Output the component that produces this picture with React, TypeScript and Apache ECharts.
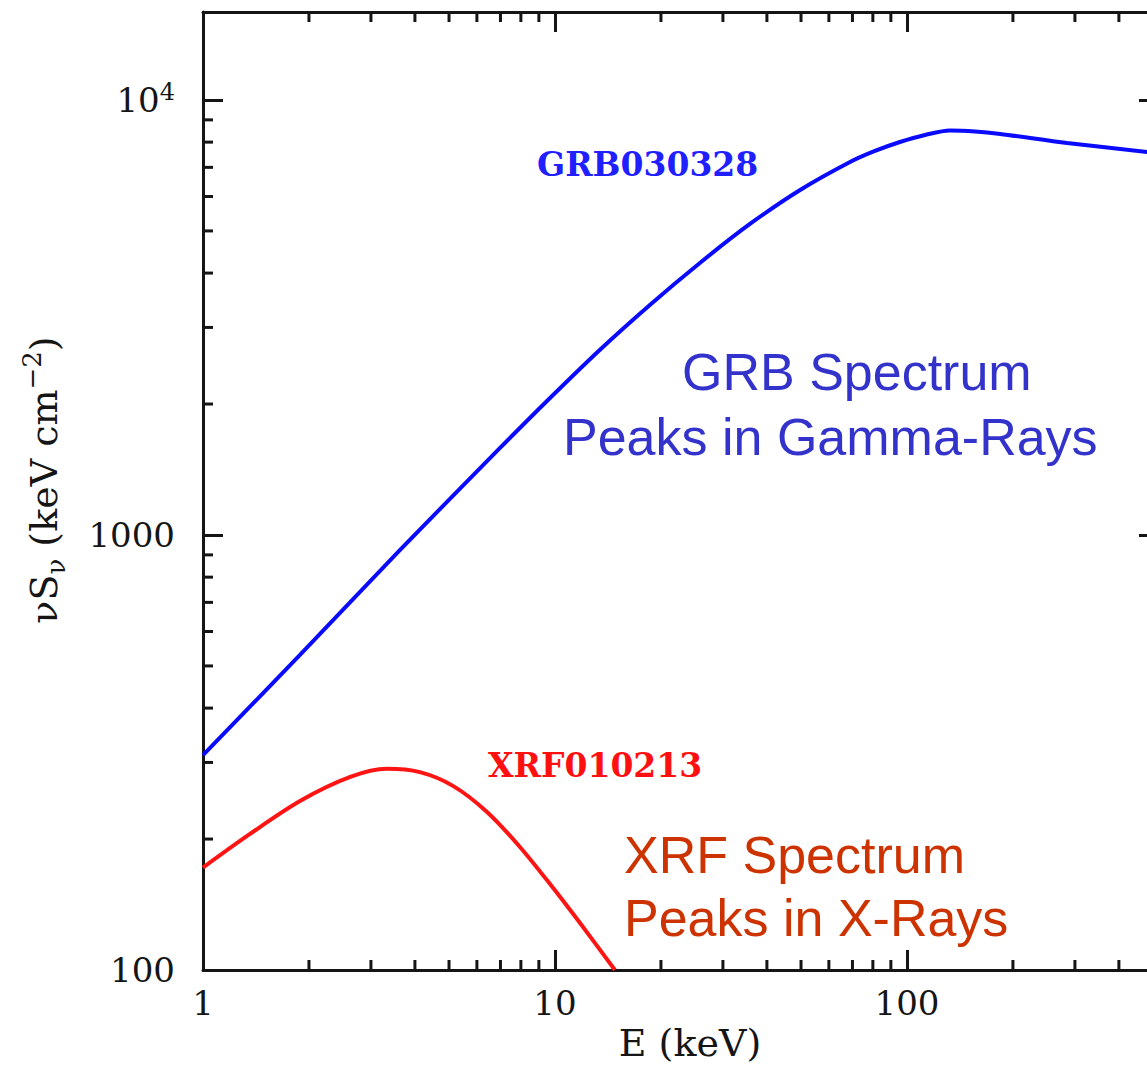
import React, { useEffect, useRef } from "react";
import * as echarts from "echarts";

// GRB030328 spectrum (E in keV, nuS_nu)
const grbEnergy = [1, 1.886, 3.63, 6.98, 9.68, 13.4, 18.6, 25.8, 35.8, 49.7, 68.9, 81.1, 95.5, 112.5, 132.5, 156, 184, 285, 481, 520];
const grbFlux = [312, 530, 924, 1585, 2065, 2663, 3379, 4220, 5187, 6210, 7202, 7636, 8006, 8309, 8510, 8465, 8353, 7962, 7592, 7536];

// XRF010213 spectrum
const xrfEnergy = [1, 1.36, 1.886, 2.62, 3.33, 4.13, 5.13, 6.41, 7.95, 9.68, 11.78, 14.8];
const xrfFlux = [172, 205.5, 244.6, 277.8, 290, 285, 265, 230.8, 191.8, 157.6, 128.2, 100];

// axis ranges and minor ticks
const xMin = 1;
const xMax = 520;
const yMin = 100;
const yMax = 15930;
const xMinorTicks = [2, 3, 4, 5, 6, 7, 8, 9, 20, 30, 40, 50, 60, 70, 80, 90, 200, 300, 400, 500];
const yMinorTicks = [200, 300, 400, 500, 600, 700, 800, 900, 2000, 3000, 4000, 5000, 6000, 7000, 8000, 9000];

const SERIF = "DejaVu Serif";
const SANS = "Liberation Sans";
const INK = "#151515";

export default function App() {
  const ref = useRef<HTMLDivElement>(null);

  useEffect(() => {
    if (!ref.current) return;
    const chart = echarts.init(ref.current, null, { renderer: "svg" });

    const gridLeft = 203;
    const gridTop = 12;
    const gridW = 956;
    const gridH = 958;

    const tickStyle = { color: INK, width: 3 };

    const minorRender = (isX: boolean) => (params: any, api: any) => {
      const cs = params.coordSys;
      const v = api.value(isX ? 0 : 1);
      const len = 10;
      if (isX) {
        const p = api.coord([v, yMin]);
        const x = p[0];
        return {
          type: "group",
          children: [
            { type: "line", shape: { x1: x, y1: cs.y + cs.height, x2: x, y2: cs.y + cs.height - len }, style: { stroke: INK, lineWidth: 3 } },
            { type: "line", shape: { x1: x, y1: cs.y, x2: x, y2: cs.y + len }, style: { stroke: INK, lineWidth: 3 } },
          ],
        };
      } else {
        const p = api.coord([xMin, v]);
        const y = p[1];
        return {
          type: "group",
          children: [
            { type: "line", shape: { x1: cs.x, y1: y, x2: cs.x + len, y2: y }, style: { stroke: INK, lineWidth: 3 } },
            { type: "line", shape: { x1: cs.x + cs.width, y1: y, x2: cs.x + cs.width - len, y2: y }, style: { stroke: INK, lineWidth: 3 } },
          ],
        };
      }
    };

    const axisCommonX = {
      type: "log" as const,
      logBase: 10,
      min: xMin,
      max: xMax,
      splitLine: { show: false },
      axisLine: { show: true, onZero: false, lineStyle: { color: INK, width: 3 } },
      axisTick: { show: true, inside: true, length: 20, lineStyle: tickStyle },
      minorTick: { show: false },
    };
    const axisCommonY = {
      type: "log" as const,
      logBase: 10,
      min: yMin,
      max: yMax,
      splitLine: { show: false },
      axisLine: { show: true, onZero: false, lineStyle: { color: INK, width: 3 } },
      axisTick: { show: true, inside: true, length: 20, lineStyle: tickStyle },
      minorTick: { show: false },
    };

    chart.setOption({
      animation: false,
      backgroundColor: "#ffffff",
      grid: { left: gridLeft, top: gridTop, width: gridW, height: gridH, containLabel: false },
      xAxis: [
        {
          ...axisCommonX,
          position: "bottom",
          axisLabel: {
            show: true,
            margin: 16,
            fontFamily: SERIF,
            fontSize: 34,
            color: INK,
            showMaxLabel: false,
            formatter: (v: number) => String(Math.round(v)),
          },
        },
        {
          ...axisCommonX,
          position: "top",
          axisLabel: { show: false },
        },
      ],
      yAxis: [
        {
          ...axisCommonY,
          position: "left",
          axisLabel: {
            show: true,
            margin: 28,
            showMaxLabel: false,
            formatter: (v: number) => {
              const r = Math.round(v);
              return r === 10000 ? "{b|10}{s|4}" : "{b|" + r + "}";
            },
            rich: {
              b: { fontFamily: SERIF, fontSize: 34, color: INK, lineHeight: 40 },
              s: { fontFamily: SERIF, fontSize: 24, color: INK, verticalAlign: "top", lineHeight: 40, padding: [0, 0, 14, 0] },
            },
          },
        },
        {
          ...axisCommonY,
          position: "right",
          axisLabel: { show: false },
        },
      ],
      series: [
        {
          type: "line",
          name: "GRB030328",
          data: grbEnergy.map((e, i) => [e, grbFlux[i]]),
          showSymbol: false,
          smooth: 0.3,
          lineStyle: { color: "#0a0aff", width: 4 },
          xAxisIndex: 0,
          yAxisIndex: 0,
        },
        {
          type: "line",
          name: "XRF010213",
          data: xrfEnergy.map((e, i) => [e, xrfFlux[i]]),
          showSymbol: false,
          smooth: 0.3,
          lineStyle: { color: "#ff1414", width: 4 },
          xAxisIndex: 0,
          yAxisIndex: 0,
        },
        {
          type: "custom",
          data: xMinorTicks.map((v) => [v, yMin]),
          renderItem: minorRender(true),
          clip: false,
          silent: true,
        },
        {
          type: "custom",
          data: yMinorTicks.map((v) => [xMin, v]),
          renderItem: minorRender(false),
          clip: false,
          silent: true,
        },
      ],
      graphic: [
        {
          type: "text",
          x: 690,
          y: 1043,
          style: { text: "E (keV)", fontFamily: SERIF, fontSize: 38, fill: INK, align: "center", verticalAlign: "middle" },
        },
        {
          type: "text",
          x: 44,
          y: 480,
          rotation: Math.PI / 2,
          style: {
            text: "{a|νS}{s|ν}{a| (keV cm}{p|−2}{a|)}",
            align: "center",
            verticalAlign: "middle",
            rich: {
              a: { fontFamily: SERIF, fontSize: 38, fill: INK, color: INK, lineHeight: 50, verticalAlign: "middle" },
              s: { fontFamily: SERIF, fontSize: 26, fill: INK, color: INK, lineHeight: 50, verticalAlign: "bottom" },
              p: { fontFamily: SERIF, fontSize: 26, fill: INK, color: INK, lineHeight: 50, verticalAlign: "top" },
            },
          },
        },
        {
          type: "text",
          x: 537,
          y: 164,
          style: { text: "GRB030328", fontFamily: SERIF, fontWeight: "bold", fontSize: 33, fill: "#1f1fff", align: "left", verticalAlign: "middle" },
        },
        {
          type: "text",
          x: 488,
          y: 765,
          style: { text: "XRF010213", fontFamily: SERIF, fontWeight: "bold", fontSize: 33, fill: "#ff1010", align: "left", verticalAlign: "middle" },
        },
        {
          type: "text",
          x: 682,
          y: 372,
          style: { text: "GRB Spectrum", fontFamily: SANS, fontSize: 52, fill: "#3333cc", align: "left", verticalAlign: "middle" },
        },
        {
          type: "text",
          x: 563,
          y: 437,
          style: { text: "Peaks in Gamma-Rays", fontFamily: SANS, fontSize: 52, fill: "#3333cc", align: "left", verticalAlign: "middle" },
        },
        {
          type: "text",
          x: 624,
          y: 855,
          style: { text: "XRF Spectrum", fontFamily: SANS, fontSize: 52, fill: "#cc3300", align: "left", verticalAlign: "middle" },
        },
        {
          type: "text",
          x: 624,
          y: 918,
          style: { text: "Peaks in X-Rays", fontFamily: SANS, fontSize: 52, fill: "#cc3300", align: "left", verticalAlign: "middle" },
        },
      ],
    });

    return () => chart.dispose();
  }, []);

  return (
    <div style={{ position: "absolute", left: 0, top: 0, width: 1147, height: 1066, overflow: "hidden", background: "#fff" }}>
      <div ref={ref} style={{ width: 1200, height: 1066 }} />
    </div>
  );
}
